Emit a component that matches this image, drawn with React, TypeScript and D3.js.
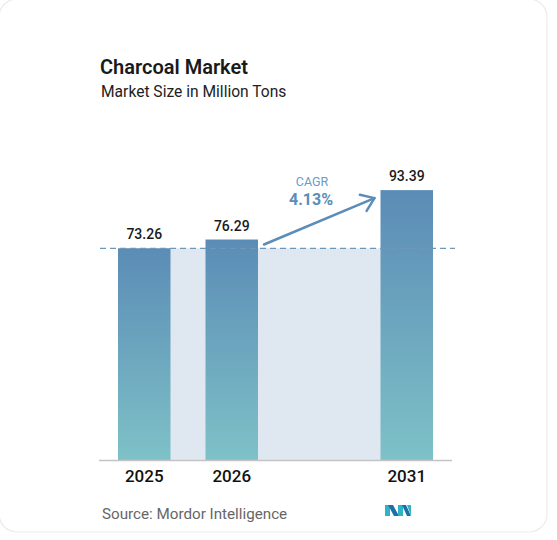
import React from "react";
import * as d3 from "d3";

// chart data
const years = ["2025", "2026", "2031"];
const values = [73.26, 76.29, 93.39];
const slots = ["2025", "2026", "gap", "2031"];
const cagrLabel = "4.13%";

const W = 557;
const H = 540;

const App: React.FC = () => {
  // scales
  const x = d3
    .scaleBand<string>()
    .domain(slots)
    .range([118, 433])
    .paddingInner(0.4)
    .paddingOuter(0);
  const y = d3.scaleLinear().domain([0, 100]).range([460, 171]);
  const bw = x.bandwidth();

  const firstX = x(years[0])!;
  const lastX = x(years[years.length - 1])! + bw;
  const baseY = y(values[0]);

  // arrow from the 2026 bar to the 2031 bar
  const a0: [number, number] = [x("2026")! + bw + 6, y(values[1]) + 5];
  const a1: [number, number] = [x("2031")! - 6, y(values[2]) + 8];
  const ang = Math.atan2(a1[1] - a0[1], a1[0] - a0[0]);
  const armLen = 15;
  const arm = (d: number): [number, number] => [
    a1[0] - armLen * Math.cos(ang + d),
    a1[1] - armLen * Math.sin(ang + d),
  ];
  const arrowLine = d3.line()([a0, a1]);
  const arrowHead = d3.line()([arm(-0.62), a1, arm(0.62)]);
  const cagrX = 312;

  return (
    <svg
      width={W}
      height={H}
      style={{ position: "absolute", left: 0, top: 0, background: "#fff" }}
      fontFamily="Roboto, 'Open Sans', sans-serif"
    >
      <defs>
        <linearGradient id="barGrad" x1="0" y1="0" x2="0" y2="1">
          <stop offset="0%" stopColor="#5b8cb6" />
          <stop offset="100%" stopColor="#7ec1c7" />
        </linearGradient>
      </defs>
      <rect
        x={-1}
        y={-1}
        width={548}
        height={533}
        rx={18}
        fill="#fff"
        stroke="#ececec"
        strokeWidth={1.2}
      />

      {/* titles */}
      <text x={100} y={74} fontSize={20} fontWeight={600} fill="#1a1a1a">
        Charcoal Market
      </text>
      <text x={101} y={97} fontSize={15.6} fill="#222">
        Market Size in Million Tons
      </text>

      {/* shaded band at base year level */}
      <rect
        x={firstX}
        y={baseY}
        width={lastX - firstX}
        height={y(0) - baseY}
        fill="#dfe8f0"
      />

      {/* bars */}
      {years.map((yr, i) => (
        <rect
          key={yr}
          x={x(yr)}
          y={y(values[i])}
          width={bw}
          height={y(0) - y(values[i])}
          fill="url(#barGrad)"
        />
      ))}

      {/* dashed reference line */}
      <line
        x1={100}
        x2={455}
        y1={baseY}
        y2={baseY}
        stroke="#6f97b8"
        strokeWidth={1.2}
        strokeDasharray="6,4"
      />

      {/* axis */}
      <line x1={99} x2={452} y1={y(0) + 0.5} y2={y(0) + 0.5} stroke="#c4c4c4" strokeWidth={1.5} />

      {/* value labels */}
      {years.map((yr, i) => (
        <text
          key={"v" + yr}
          x={x(yr)! + bw / 2}
          y={y(values[i]) - 9}
          textAnchor="middle"
          fontSize={14}
          fontWeight={500}
          fill="#1a1a1a"
        >
          {values[i].toFixed(2)}
        </text>
      ))}

      {/* year labels */}
      {years.map((yr) => (
        <text
          key={"y" + yr}
          x={x(yr)! + bw / 2}
          y={482}
          textAnchor="middle"
          fontSize={17}
          fontWeight={500}
          fill="#111"
        >
          {yr}
        </text>
      ))}

      {/* CAGR arrow */}
      <path d={arrowLine!} stroke="#5b8db8" strokeWidth={2.5} fill="none" strokeLinecap="round" />
      <path
        d={arrowHead!}
        stroke="#5b8db8"
        strokeWidth={2.5}
        fill="none"
        strokeLinecap="round"
        strokeLinejoin="round"
      />
      <text x={cagrX} y={185.5} textAnchor="middle" fontSize={12.5} fill="#6a9cc4">
        CAGR
      </text>
      <text x={cagrX - 1} y={205} textAnchor="middle" fontSize={16} fontWeight={700} fill="#5b8db8">
        {cagrLabel}
      </text>

      {/* source */}
      <text x={102} y={519} fontSize={15.2} fill="#666">
        Source: Mordor Intelligence
      </text>

      {/* logo */}
      <g transform="translate(385,505)">
        <polygon points="0,0 5,0 5,11 0,11" fill="#2fb3c6" />
        <polygon points="3,0 8,0 14,11 9,11" fill="#1d6fa8" />
        <polygon points="13,0 18,0 18,11 13,11" fill="#2fb3c6" />
        <polygon points="17,0 21,0 26,11 22,11" fill="#1d6fa8" />
        <polygon points="22,0 26,0 26,11" fill="#2fb3c6" />
      </g>
    </svg>
  );
};

export default App;
